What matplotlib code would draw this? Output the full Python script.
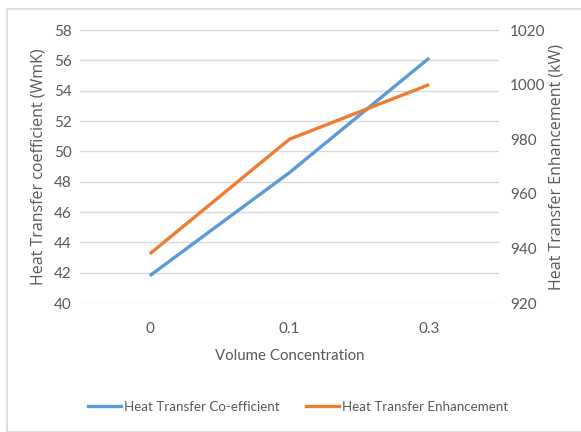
import matplotlib
matplotlib.use("Agg")
import matplotlib.pyplot as plt
from matplotlib.lines import Line2D
from matplotlib.patches import Rectangle

categories = ["0", "0.1", "0.3"]
htc = [41.8, 48.6, 56.15]
enh = [938, 980, 1000]
left_ticks = [40, 42, 44, 46, 48, 50, 52, 54, 56, 58]
right_ticks = [920, 940, 960, 980, 1000, 1020]

BLUE = "#5B9BD5"
ORANGE = "#ED7D31"
TXT = "#595959"
FONT = ["Lato", "DejaVu Sans"]

W, H = 581, 432
fig = plt.figure(figsize=(W / 100, H / 100), dpi=100)
fig.patch.set_facecolor("white")
fig.patches.append(Rectangle((7 / W, 0), 1, 1 - 9 / H, transform=fig.transFigure,
                             fill=False, edgecolor="#D9D9D9", linewidth=1.2))

ax = fig.add_axes([80 / W, 1 - 303 / H, (499 - 80) / W, (303 - 30) / H])
x = list(range(len(categories)))
ax.plot(x, htc, color=BLUE, linewidth=2.4, solid_capstyle="butt")
ax.set_xlim(-0.5, len(categories) - 0.5)
ax.set_ylim(40, 58)
ax.set_yticks(left_ticks)
ax.set_xticks(x)
ax.set_xticklabels(categories)
ax.grid(axis="y", color="#D9D9D9", linewidth=1)
ax.set_axisbelow(True)
for s in ax.spines.values():
    s.set_visible(False)
ax.tick_params(length=0, colors=TXT, labelsize=11, pad=6)
ax.tick_params(axis="x", pad=14)
for lab in ax.get_xticklabels() + ax.get_yticklabels():
    lab.set_fontfamily(FONT)
ax.set_xlabel("Volume Concentration", color=TXT, fontsize=10.8, family=FONT, labelpad=9)
ax.set_ylabel("Heat Transfer coefficient (WmK)", color=TXT, fontsize=11.5,
              family=["Open Sans", "DejaVu Sans"], labelpad=5)

ax2 = ax.twinx()
ax2.plot(x, enh, color=ORANGE, linewidth=2.4, solid_capstyle="butt")
ax2.set_ylim(920, 1020)
ax2.set_yticks(right_ticks)
for s in ax2.spines.values():
    s.set_visible(False)
ax2.tick_params(length=0, colors=TXT, labelsize=11, pad=8)
for lab in ax2.get_yticklabels():
    lab.set_fontfamily(FONT)
ax2.set_ylabel("Heat Transfer Enhancement (kW)", color=TXT, fontsize=11.5,
               family=["Open Sans", "DejaVu Sans"], labelpad=2)

handles = [Line2D([], [], color=BLUE, linewidth=2.4),
           Line2D([], [], color=ORANGE, linewidth=2.4)]
leg = fig.legend(handles, ["Heat Transfer Co-efficient", "Heat Transfer Enhancement"],
                 loc="center", bbox_to_anchor=(298 / W, 1 - 407 / H), ncol=2,
                 frameon=False, handlelength=2.5, handletextpad=0.2, columnspacing=2.0,
                 prop={"family": FONT, "size": 9.6})
for t in leg.get_texts():
    t.set_color(TXT)

fig.savefig("out.png", dpi=100, facecolor="white")
